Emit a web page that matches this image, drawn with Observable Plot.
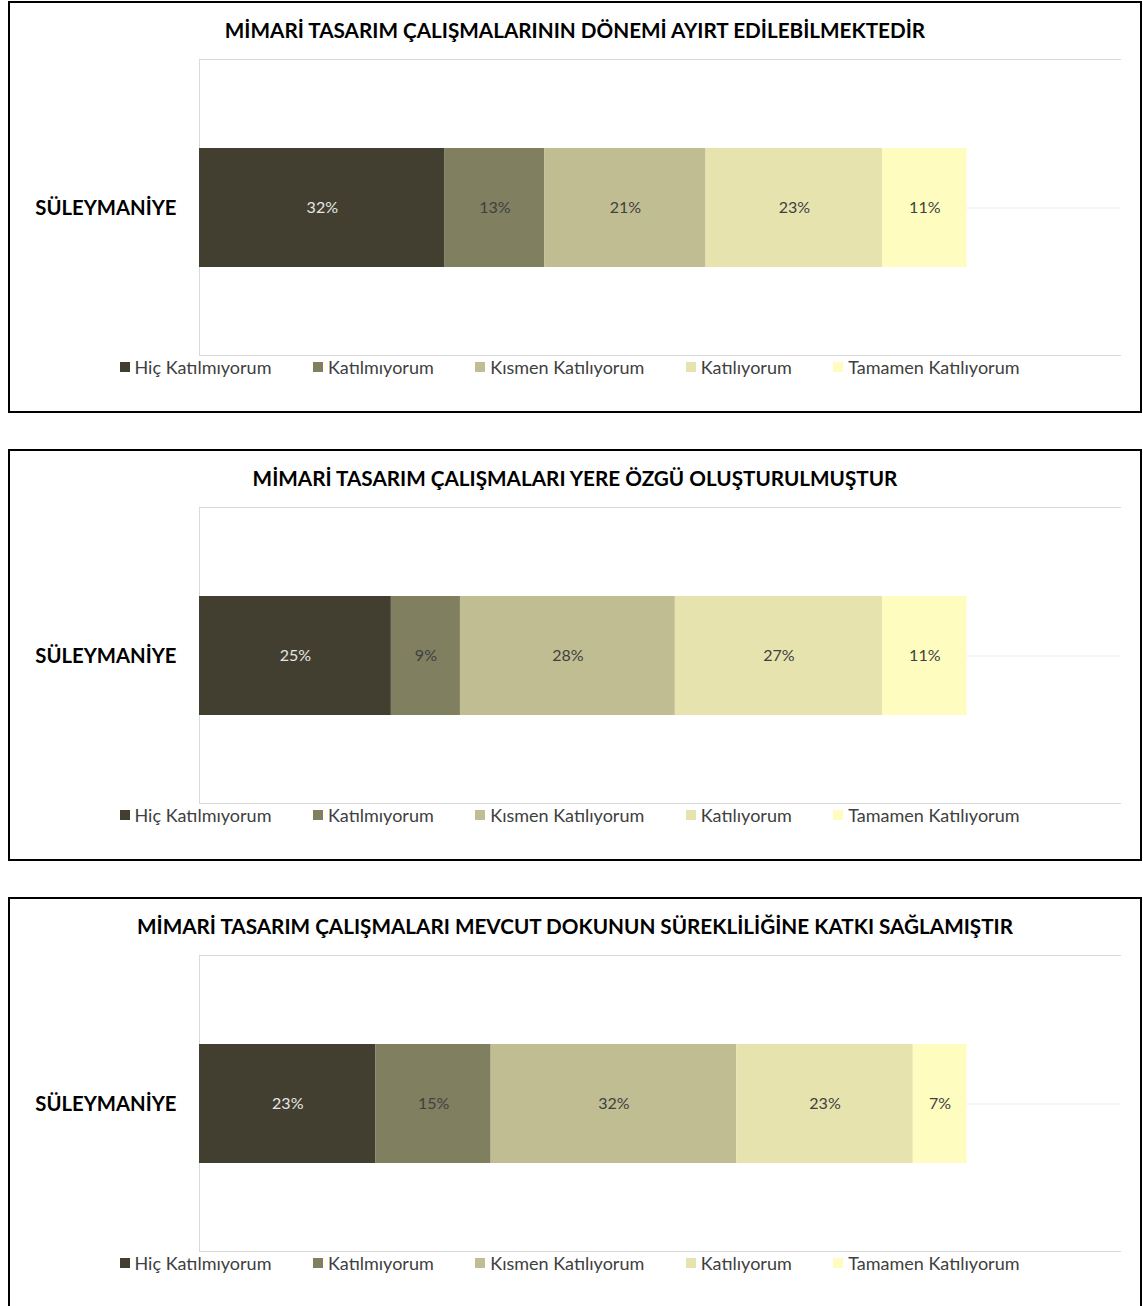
<!DOCTYPE html>
<html><head><meta charset="utf-8">
<script src="https://cdn.jsdelivr.net/npm/d3@7"></script>
<script src="https://cdn.jsdelivr.net/npm/@observablehq/plot@0.6"></script>
<style>
html,body{margin:0;padding:0;background:#fff;width:1143px;height:1306px;overflow:hidden;font-family:Lato,"Open Sans",sans-serif;}
.panel{position:absolute;left:8px;width:1130px;height:408px;border:2px solid #000;background:#fff;}
.title{position:absolute;left:0;right:0;top:15px;text-align:center;font-weight:bold;font-size:20.7px;color:#000;line-height:24px;white-space:nowrap;}
.legend{position:absolute;left:0;right:0;top:354px;display:flex;justify-content:center;gap:41.5px;font-size:18px;line-height:20px;color:#404040;padding-right:11px;}
.legend .item{display:flex;align-items:center;white-space:nowrap;}
.legend .sw{width:10px;height:10px;margin-right:5px;}
</style>
</head><body>
<script>
const categories = ["Hiç Katılmıyorum", "Katılmıyorum", "Kısmen Katılıyorum", "Katılıyorum", "Tamamen Katılıyorum"];
const group = "SÜLEYMANİYE";
const titles = [
  "MİMARİ TASARIM ÇALIŞMALARININ DÖNEMİ AYIRT EDİLEBİLMEKTEDİR",
  "MİMARİ TASARIM ÇALIŞMALARI YERE ÖZGÜ OLUŞTURULMUŞTUR",
  "MİMARİ TASARIM ÇALIŞMALARI MEVCUT DOKUNUN SÜREKLİLİĞİNE KATKI SAĞLAMIŞTIR"
];
const values1 = [32, 13, 21, 23, 11];
const values2 = [25, 9, 28, 27, 11];
const values3 = [23, 15, 32, 23, 7];

const colors = ["#423f31", "#807f60", "#c0bd93", "#e6e3ae", "#fffcbf"];
const panelTops = [1, 449, 897];
const fontFamily = 'Lato, "Open Sans", sans-serif';

function drawPanel(title, values, top) {
  const panel = document.createElement("div");
  panel.className = "panel";
  panel.style.top = top + "px";
  document.body.appendChild(panel);

  const t = document.createElement("div");
  t.className = "title";
  t.textContent = title;
  panel.appendChild(t);

  const rows = categories.map((c, i) => ({category: c, group, value: values[i]}));
  const isFirst = d => d.category === categories[0];

  const chart = Plot.plot({
    width: 1130, height: 314,
    marginLeft: 189, marginRight: 20, marginTop: 16, marginBottom: 2,
    x: {domain: [0, 120], axis: null},
    y: {domain: [group], padding: 0.427, label: null, axis: null},
    color: {domain: categories, range: colors},
    style: {fontFamily, background: "transparent", color: "#000"},
    marks: [
      Plot.gridY({stroke: "#ededed", strokeOpacity: 1}),
      Plot.frame({anchor: "top", stroke: "#d9d9d9"}),
      Plot.frame({anchor: "bottom", stroke: "#d9d9d9"}),
      Plot.ruleX([0], {stroke: "#d9d9d9"}),
      Plot.barX(rows, Plot.stackX({x: "value", y: "group", fill: "category"})),
      Plot.text(rows, Plot.stackX({x: "value", y: "group",
        text: d => isFirst(d) ? d.value + "%" : "", fill: "#e6e6e6", fontSize: 16})),
      Plot.text(rows, Plot.stackX({x: "value", y: "group",
        text: d => isFirst(d) ? "" : d.value + "%", fill: "#404040", fontSize: 16})),
      Plot.axisY({tickSize: 0, tickPadding: 23, fontSize: 20.3, fontWeight: "bold", fill: "#000"})
    ]
  });
  chart.style.position = "absolute";
  chart.style.left = "0px";
  chart.style.top = "40px";
  panel.appendChild(chart);

  const legend = document.createElement("div");
  legend.className = "legend";
  categories.forEach((c, i) => {
    const it = document.createElement("div");
    it.className = "item";
    const sw = document.createElement("span");
    sw.className = "sw";
    sw.style.background = colors[i];
    const lb = document.createElement("span");
    lb.textContent = c;
    it.appendChild(sw); it.appendChild(lb);
    legend.appendChild(it);
  });
  panel.appendChild(legend);
}

drawPanel(titles[0], values1, panelTops[0]);
drawPanel(titles[1], values2, panelTops[1]);
drawPanel(titles[2], values3, panelTops[2]);
</script>
</body></html>
